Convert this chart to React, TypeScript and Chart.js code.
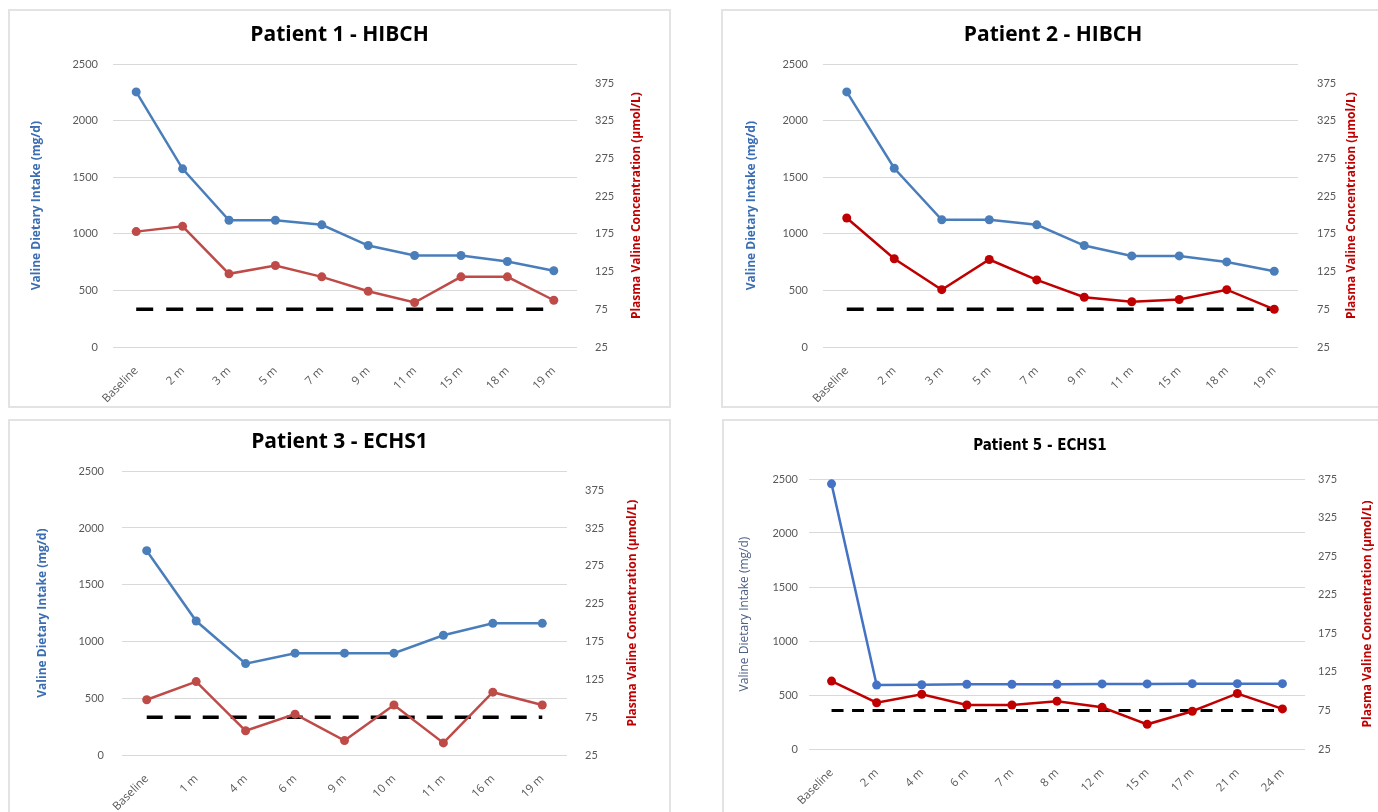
import React, { useEffect, useRef } from "react";
import { Chart, registerables } from "chart.js";

Chart.register(...registerables);

const FONT = "Lato, 'Open Sans', 'Noto Sans', sans-serif";
const WIDE = "'Open Sans', Lato, 'Noto Sans', sans-serif";
const NARROW = "'Liberation Sans Narrow', 'DejaVu Sans Condensed', Lato, sans-serif";

// ---------- data ----------
const LEFT_TICKS = [0, 500, 1000, 1500, 2000, 2500];
const RIGHT_TICKS = [25, 75, 125, 175, 225, 275, 325, 375];

const P1_LABELS = ["Baseline", "2 m", "3 m", "5 m", "7 m", "9 m", "11 m", "15 m", "18 m", "19 m"];
const P1_INTAKE = [2255, 1575, 1120, 1120, 1080, 897, 809, 809, 756, 674];
const P1_PLASMA = [178, 185, 122, 133, 118, 99, 84, 118, 118, 87];
const P1_THRESHOLD = [75, 75, 75, 75, 75, 75, 75, 75, 75, 75];

const P2_LABELS = ["Baseline", "2 m", "3 m", "5 m", "7 m", "9 m", "11 m", "15 m", "18 m", "19 m"];
const P2_INTAKE = [2255, 1580, 1125, 1125, 1080, 897, 805, 805, 752, 670];
const P2_PLASMA = [196, 142, 101, 141, 114, 91, 85, 88, 101, 75];
const P2_THRESHOLD = [75, 75, 75, 75, 75, 75, 75, 75, 75, 75];

const P3_LABELS = ["Baseline", "1 m", "4 m", "6 m", "9 m", "10 m", "11 m", "16 m", "19 m"];
const P3_INTAKE = [1800, 1180, 805, 897, 897, 897, 1055, 1160, 1160];
const P3_PLASMA = [98, 122, 57, 79, 44, 91, 41, 108, 91];
const P3_THRESHOLD = [75, 75, 75, 75, 75, 75, 75, 75, 75];

const P5_LABELS = ["Baseline", "2 m", "4 m", "6 m", "7 m", "8 m", "12 m", "15 m", "17 m", "21 m", "24 m"];
const P5_INTAKE = [2455, 592, 595, 600, 600, 600, 603, 603, 605, 605, 605];
const P5_PLASMA = [113, 85, 96, 82, 82, 87, 79, 57, 74, 97, 77];
const P5_THRESHOLD = [75, 75, 75, 75, 75, 75, 75, 75, 75, 75, 75];

const LEFT_TITLE = "Valine Dietary Intake (mg/d)";
const RIGHT_TITLE = "Plasma Valine Concentration (\u00b5mol/L)";

// ---------- plugin: right axis title reading bottom-to-top ----------
const rightTitlePlugin = {
  id: "rightTitle",
  afterDraw(chart: any, _args: any, opts: any) {
    const { ctx, chartArea } = chart;
    ctx.save();
    ctx.font = opts.font;
    ctx.fillStyle = opts.color;
    ctx.textAlign = "center";
    ctx.textBaseline = "middle";
    ctx.translate(chartArea.right + opts.offset, (chartArea.top + chartArea.bottom) / 2);
    ctx.rotate(-Math.PI / 2);
    ctx.fillText(opts.text, 0, 0);
    ctx.restore();
  },
};

interface PanelSpec {
  title: string;
  labels: string[];
  intake: number[];
  plasma: number[];
  threshold: number[];
  blue: string;
  red: string;
  x: number;
  y: number;
  w: number;
  h: number;
  leftW: number;
  rightW: number;
  xH: number;
  padR: number;
  titleSize: number;
  titleFamily: string;
  titlePadTop: number;
  titlePadBottom: number;
  leftTitlePad: number;
  leftTickPad: number;
  rightTickPad: number;
  rightTitleOffset: number;
  leftTitleColor: string;
  leftTitleWeight: string;
  rightMax: number;
  dash: number[];
  dashWidth: number;
}

const PANELS: PanelSpec[] = [
  {
    title: "Patient 1 - HIBCH",
    labels: P1_LABELS, intake: P1_INTAKE, plasma: P1_PLASMA, threshold: P1_THRESHOLD,
    blue: "#4A7EBB", red: "#BE4B48",
    x: 10, y: 11, w: 659, h: 395,
    leftW: 103, rightW: 92, xH: 59, padR: 0,
    titleSize: 21, titleFamily: WIDE, titlePadTop: 11, titlePadBottom: 17,
    leftTitlePad: 19, leftTickPad: 15, rightTickPad: 18, rightTitleOffset: 60,
    leftTitleColor: "#3A6DB3", leftTitleWeight: "bold",
    rightMax: 400, dash: [17, 13], dashWidth: 3.5,
  },
  {
    title: "Patient 2 - HIBCH",
    labels: P2_LABELS, intake: P2_INTAKE, plasma: P2_PLASMA, threshold: P2_THRESHOLD,
    blue: "#4A7EBB", red: "#C00000",
    x: 723, y: 11, w: 660, h: 395,
    leftW: 100, rightW: 85, xH: 59, padR: 0,
    titleSize: 21, titleFamily: WIDE, titlePadTop: 11, titlePadBottom: 17,
    leftTitlePad: 21, leftTickPad: 15, rightTickPad: 19, rightTitleOffset: 54,
    leftTitleColor: "#3A6DB3", leftTitleWeight: "bold",
    rightMax: 400, dash: [17, 13], dashWidth: 3.5,
  },
  {
    title: "Patient 3 - ECHS1",
    labels: P3_LABELS, intake: P3_INTAKE, plasma: P3_PLASMA, threshold: P3_THRESHOLD,
    blue: "#4A7EBB", red: "#BE4B48",
    x: 10, y: 421, w: 659, h: 391,
    leftW: 112, rightW: 102, xH: 57, padR: 0,
    titleSize: 21, titleFamily: WIDE, titlePadTop: 8, titlePadBottom: 17,
    leftTitlePad: 25, leftTickPad: 18, rightTickPad: 18, rightTitleOffset: 66,
    leftTitleColor: "#3A6DB3", leftTitleWeight: "bold",
    rightMax: 400, dash: [16, 12], dashWidth: 3.5,
  },
  {
    title: "Patient 5 - ECHS1",
    labels: P5_LABELS, intake: P5_INTAKE, plasma: P5_PLASMA, threshold: P5_THRESHOLD,
    blue: "#4472C4", red: "#C00000",
    x: 724, y: 421, w: 654, h: 391,
    leftW: 85, rightW: 51, xH: 63, padR: 22,
    titleSize: 15, titleFamily: NARROW, titlePadTop: 16, titlePadBottom: 24,
    leftTitlePad: 13, leftTickPad: 11, rightTickPad: 13, rightTitleOffset: 63,
    leftTitleColor: "#4B5F86", leftTitleWeight: "normal",
    rightMax: 375, dash: [12, 8.5], dashWidth: 3,
  },
];

function ChartPanel({ spec }: { spec: PanelSpec }) {
  const ref = useRef<HTMLCanvasElement | null>(null);

  useEffect(() => {
    if (!ref.current) return;
    const s = spec;
    const tickFont = { family: FONT, size: 11 };
    const chart = new Chart(ref.current, {
      type: "line",
      data: {
        labels: s.labels,
        datasets: [
          {
            label: "Valine intake",
            data: s.intake,
            yAxisID: "yL",
            borderColor: s.blue,
            backgroundColor: s.blue,
            borderWidth: 2.5,
            pointRadius: 4.5,
            pointBorderWidth: 0,
            pointBackgroundColor: s.blue,
            tension: 0,
          },
          {
            label: "Plasma valine",
            data: s.plasma,
            yAxisID: "yR",
            borderColor: s.red,
            backgroundColor: s.red,
            borderWidth: 2.5,
            pointRadius: 4.5,
            pointBorderWidth: 0,
            pointBackgroundColor: s.red,
            tension: 0,
          },
          {
            label: "Threshold",
            data: s.threshold,
            yAxisID: "yR",
            borderColor: "#000000",
            borderWidth: s.dashWidth,
            borderDash: s.dash,
            pointRadius: 0,
            tension: 0,
          },
        ],
      },
      options: {
        responsive: false,
        animation: false,
        events: [],
        layout: { padding: { left: 0, right: s.padR, top: 0, bottom: 0 } },
        plugins: {
          legend: { display: false },
          tooltip: { enabled: false },
          title: {
            display: true,
            text: s.title,
            color: "#000000",
            font: { family: s.titleFamily, size: s.titleSize, weight: "bold" },
            padding: { top: s.titlePadTop, bottom: s.titlePadBottom },
          },
          rightTitle: {
            text: RIGHT_TITLE,
            color: "#C00000",
            font: `bold 12px ${WIDE}`,
            offset: s.rightTitleOffset,
          },
        } as any,
        scales: {
          x: {
            offset: true,
            grid: { display: false },
            border: { display: false },
            ticks: {
              color: "#595959",
              font: { family: WIDE, size: 11.5 },
              minRotation: 45,
              maxRotation: 45,
              autoSkip: false,
              padding: 9,
            },
            afterFit: (scale: any) => {
              scale.height = s.xH;
            },
          },
          yL: {
            position: "left",
            min: 0,
            max: 2500,
            afterBuildTicks: (scale: any) => {
              scale.ticks = LEFT_TICKS.map((v) => ({ value: v }));
            },
            grid: { color: "#D9D9D9", lineWidth: 1, drawTicks: false },
            border: { display: false },
            ticks: {
              color: "#595959",
              font: tickFont,
              padding: s.leftTickPad,
              callback: (v: any) => String(v),
            },
            title: {
              display: true,
              text: LEFT_TITLE,
              color: s.leftTitleColor,
              font: { family: WIDE, size: 12, weight: s.leftTitleWeight as any },
              padding: { top: s.leftTitlePad, bottom: 0 },
            },
            afterFit: (scale: any) => {
              scale.width = s.leftW;
            },
          },
          yR: {
            position: "right",
            min: 25,
            max: s.rightMax,
            afterBuildTicks: (scale: any) => {
              scale.ticks = RIGHT_TICKS.map((v) => ({ value: v }));
            },
            grid: { display: false, drawTicks: false },
            border: { display: false },
            ticks: {
              color: "#595959",
              font: tickFont,
              padding: s.rightTickPad,
              callback: (v: any) => String(v),
            },
            afterFit: (scale: any) => {
              scale.width = s.rightW;
            },
          },
        },
      } as any,
      plugins: [rightTitlePlugin as any],
    });
    return () => chart.destroy();
  }, [spec]);

  return (
    <div
      style={{
        position: "absolute",
        left: spec.x - 2,
        top: spec.y - 2,
        width: spec.w,
        height: spec.h,
        border: "2px solid #E3E3E3",
        background: "#FFFFFF",
      }}
    >
      <canvas
        ref={ref}
        width={spec.w}
        height={spec.h}
        style={{ display: "block", width: spec.w, height: spec.h }}
      />
    </div>
  );
}

export default function App() {
  Chart.defaults.font.family = FONT;
  return (
    <div
      style={{
        position: "absolute",
        left: 0,
        top: 0,
        width: 1378,
        height: 812,
        overflow: "hidden",
        background: "#FFFFFF",
      }}
    >
      {PANELS.map((p) => (
        <ChartPanel key={p.title} spec={p} />
      ))}
    </div>
  );
}
